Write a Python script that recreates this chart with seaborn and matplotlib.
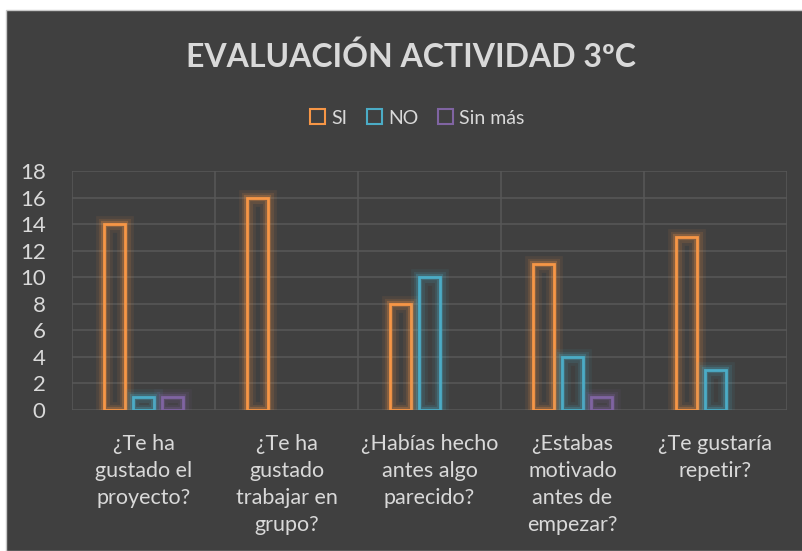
import matplotlib.pyplot as plt
import matplotlib.patheffects as pe
from matplotlib.patches import Patch, Rectangle
import pandas as pd
import seaborn as sns

preguntas = ['¿Te ha\ngustado el\nproyecto?',
             '¿Te ha\ngustado\ntrabajar en\ngrupo?',
             '¿Habías hecho\nantes algo\nparecido?',
             '¿Estabas\nmotivado\nantes de\nempezar?',
             '¿Te gustaría\nrepetir?']
si = [14, 16, 8, 11, 13]
no = [1, None, 10, 4, 3]
sin_mas = [1, None, None, 1, None]
series = ['SI', 'NO', 'Sin más']
colores = ['#F79646', '#4BACC6', '#8064A2']
fondo = '#404040'
texto = '#D9D9D9'
rejilla = '#585858'

rows = []
for nombre, vals in zip(series, [si, no, sin_mas]):
    for p, v in zip(preguntas, vals):
        if v is not None:
            rows.append({'pregunta': p, 'respuesta': nombre, 'alumnos': v})
df = pd.DataFrame(rows)

sns.set_theme(style='dark')
plt.rcParams['font.family'] = ['Lato', 'DejaVu Sans']

fig = plt.figure(figsize=(8.02, 5.51), dpi=100)
fig.patch.set_facecolor('white')
fig.patches.append(Rectangle((6 / 802, 0), 1, 1 - 10 / 551, transform=fig.transFigure,
                             facecolor=fondo, edgecolor='#C8C8C8', lw=1, zorder=-1))

ax = fig.add_axes([72 / 802, 1 - 410 / 551, 715 / 802, 239 / 551])
ax.set_facecolor('none')
sns.barplot(data=df, x='pregunta', y='alumnos', hue='respuesta', order=preguntas,
            hue_order=series, palette=colores, fill=False, width=0.6, gap=0.26,
            linewidth=2, errorbar=None, legend=False, ax=ax)

# brillo alrededor de cada barra
for bar in ax.patches:
    c = bar.get_edgecolor()
    bar.set_path_effects([
        pe.Stroke(linewidth=12, foreground=c, alpha=0.08),
        pe.Stroke(linewidth=8, foreground=c, alpha=0.12),
        pe.Stroke(linewidth=4.5, foreground=c, alpha=0.25),
        pe.Normal(),
    ])

ax.set_ylim(0, 18)
ax.set_xlim(-0.5, 4.5)
ax.set_yticks(range(0, 19, 2))
ax.set_axisbelow(True)
ax.grid(axis='y', color=rejilla, lw=1.1)
ax.grid(axis='x', visible=False)
for i in range(6):
    ax.axvline(i - 0.5, color=rejilla, lw=1.1, zorder=0)
for s in ax.spines.values():
    s.set_visible(False)
ax.set_xlabel('')
ax.set_ylabel('')
ax.tick_params(axis='y', colors=texto, labelsize=16, pad=19, length=0)
ax.tick_params(axis='x', colors=texto, labelsize=15.5, pad=17, length=0)
for lab in ax.get_xticklabels():
    lab.set_linespacing(1.45)

fig.text(0.513, 1 - 57 / 551, 'EVALUACIÓN ACTIVIDAD 3ºC', ha='center', va='center',
         fontsize=23, fontweight='bold', color=texto)

handles = [Patch(facecolor='none', edgecolor=c, lw=1.5) for c in colores]
fig.legend(handles, series, loc='center', bbox_to_anchor=(0.52, 1 - 118 / 551), ncol=3,
           frameon=False, fontsize=14, labelcolor=texto, handlelength=0.8,
           handleheight=0.8, handletextpad=0.3, columnspacing=1.0)

fig.savefig('out.png', dpi=100)
